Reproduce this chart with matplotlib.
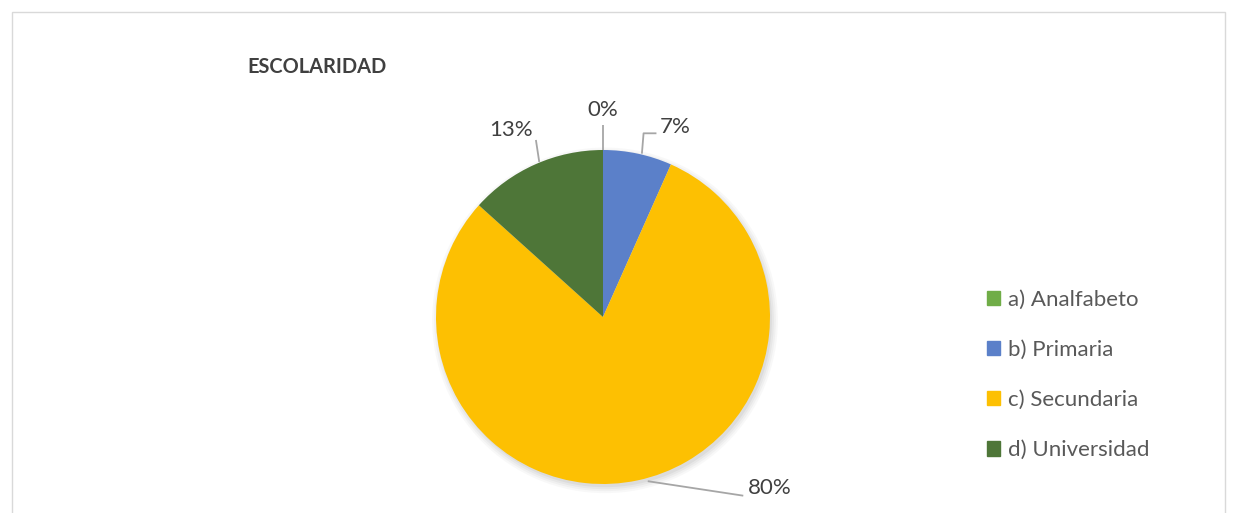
import numpy as np
import matplotlib.pyplot as plt
from matplotlib.patches import Rectangle, Circle

plt.rcParams['font.family'] = ['Lato', 'DejaVu Sans']

# data
categories = ['a) Analfabeto', 'b) Primaria', 'c) Secundaria', 'd) Universidad']
counts = [0, 1, 12, 2]
colors = ['#70AD47', '#5B80C9', '#FDC002', '#4E7638']
title = 'ESCOLARIDAD'

fig = plt.figure(figsize=(12.37, 5.13), dpi=100)

# chart border
fig.patches.append(Rectangle((12 / 1237, -0.1), (1225 - 12) / 1237, 1.1 - 12 / 513,
                             transform=fig.transFigure, fill=False,
                             edgecolor='#D9D9D9', lw=1.0))

cx, cy, r = 603, 317, 167
ax = fig.add_axes([(cx - 200) / 1237, (513 - cy - 200) / 513, 400 / 1237, 400 / 513])

# soft shadow
for k, a in enumerate([0.05, 0.06, 0.08, 0.1]):
    ax.add_patch(Circle((0.012, -0.02), 1.035 - k * 0.012, color='#808080', alpha=a, lw=0, zorder=0))

wedges, _ = ax.pie(counts, colors=colors, startangle=90, counterclock=False,
                   radius=1.0, wedgeprops=dict(linewidth=0))

lim = 200 / r
ax.set_xlim(-lim, lim)
ax.set_ylim(-lim, lim)
ax.set_aspect('equal')
ax.axis('off')

total = sum(counts)
pcts = [round(100 * c / total) for c in counts]

# label text positions (data units)
text_pos = [(0.0, 1.24), (0.43, 1.135), (1.0, -1.025), (-0.55, 1.12)]
for w, p, tp in zip(wedges, pcts, text_pos):
    ang = np.deg2rad((w.theta1 + w.theta2) / 2)
    ax0, ay0 = np.cos(ang), np.sin(ang)
    if tp[1] > 0:
        if tp[0] > 0.3:
            xs = [ax0 + 0.025, ax0 + 0.035, tp[0] - 0.11]
            ys = [ay0, 1.10, 1.10]
        elif tp[0] < -0.3:
            xs = [ax0 + 0.025, ax0 + 0.005]
            ys = [ay0 + 0.015, 1.06]
        else:
            xs = [ax0, ax0]
            ys = [ay0, 1.15]
    else:
        xs = [ax0 + 0.06, tp[0] - 0.16]
        ys = [ay0 - 0.005, -1.07]
    ax.plot(xs, ys, color='#A6A6A6', lw=1.3, solid_capstyle='butt', zorder=3)
    ax.text(tp[0], tp[1], f'{p}%', ha='center', va='center', fontsize=16, color='#404040')

fig.text(247 / 1237, 1 - 67 / 513, title, fontsize=14.4, fontweight='bold',
         color='#404040', ha='left', va='center')

# legend
handles = [Rectangle((0, 0), 1, 1, color=c) for c in colors]
fig.legend(handles, categories, loc='center left', bbox_to_anchor=(967 / 1237, 1 - 375 / 513),
           frameon=False, fontsize=16, labelcolor='#595959', handlelength=0.6,
           handleheight=0.6, handletextpad=0.35, labelspacing=1.36)

fig.savefig('out.png', dpi=100)
